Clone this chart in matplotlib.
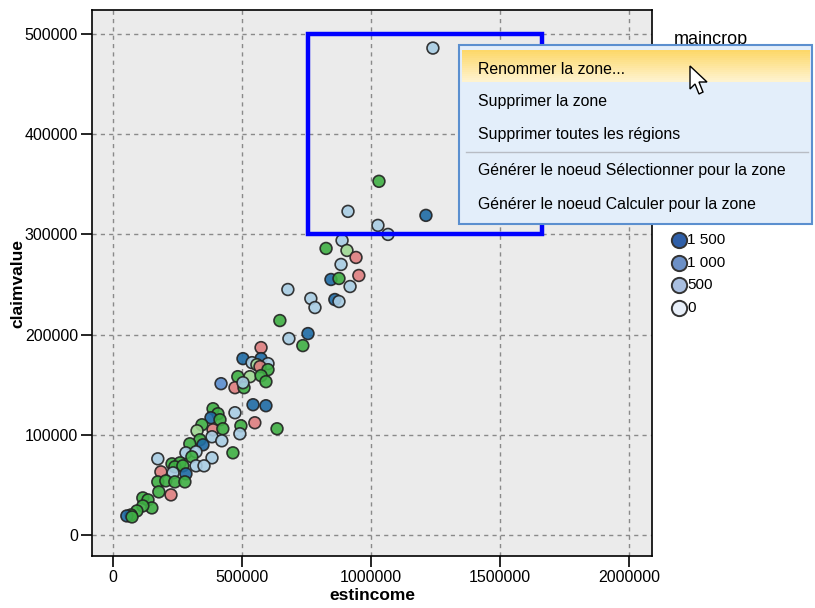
import matplotlib
matplotlib.use('Agg')
import matplotlib.pyplot as plt
from matplotlib.patches import Rectangle, Polygon
from matplotlib.lines import Line2D
import matplotlib.colors as mcolors

plt.rcParams['font.family'] = ['Liberation Sans', 'DejaVu Sans']

# estincome / claimvalue, with the crop colour group
estincome = [1240000, 1031000, 911000, 1027000, 1066000, 1213000, 888000, 826000, 907000, 942000,
             884000, 953000, 845000, 876000, 919000, 678000, 767000, 783000, 860000, 876000,
             647000, 756000, 682000, 736000, 574000, 574000, 504000, 539000, 558000, 601000,
             570000, 601000, 484000, 531000, 574000, 593000, 419000, 473000, 508000, 504000,
             543000, 593000, 388000, 407000, 380000, 415000, 473000, 550000, 496000, 636000,
             345000, 326000, 388000, 426000, 492000, 384000, 422000, 337000, 298000, 349000,
             283000, 322000, 306000, 384000, 465000, 174000, 229000, 260000, 240000, 271000,
             322000, 353000, 186000, 233000, 283000, 174000, 205000, 240000, 279000, 178000,
             225000, 116000, 136000, 151000, 116000, 93000, 70000, 54000, 74000]
claimvalue = [486000, 353000, 323000, 309000, 300000, 319000, 294000, 286000, 284000, 277000,
              270000, 259000, 255000, 256000, 248000, 245000, 236000, 227000, 235000, 233000,
              214000, 201000, 196000, 189000, 187000, 176000, 176000, 172000, 170000, 171000,
              168000, 165000, 158000, 158000, 159000, 153000, 151000, 147000, 147000, 152000,
              130000, 129000, 126000, 121000, 117000, 115000, 122000, 112000, 109000, 106000,
              110000, 104000, 105000, 106000, 101000, 98000, 94000, 95000, 91000, 90000,
              82000, 83000, 78000, 77000, 82000, 76000, 71000, 72000, 68000, 69000,
              69000, 69000, 63000, 62000, 61000, 53000, 54000, 53000, 53000, 43000,
              40000, 37000, 35000, 27000, 29000, 24000, 20000, 19000, 18000]
crop_group = ['LB', 'G', 'LB', 'LB', 'LB', 'DB', 'LB', 'G', 'LG', 'P',
              'LB', 'P', 'DB', 'G', 'LB', 'LB', 'LB', 'LB', 'DB', 'LB',
              'G', 'DB', 'LB', 'G', 'P', 'DB', 'DB', 'LB', 'LG', 'LB',
              'P', 'G', 'G', 'LG', 'G', 'G', 'MB', 'P', 'G', 'LB',
              'DB', 'DB', 'G', 'G', 'DB', 'G', 'LB', 'P', 'G', 'G',
              'G', 'LG', 'P', 'G', 'LB', 'LB', 'LB', 'G', 'G', 'DB',
              'LB', 'LB', 'G', 'LB', 'G', 'LB', 'G', 'G', 'G', 'G',
              'LB', 'LB', 'P', 'LB', 'DB', 'G', 'G', 'G', 'G', 'G',
              'P', 'G', 'G', 'G', 'G', 'G', 'G', 'DB', 'G']
group_colors = {'LB': '#a9cde4', 'DB': '#1f6ca6', 'MB': '#5b8ed0', 'G': '#3fb044',
                'LG': '#9fd792', 'P': '#de7f80'}

# zone drawn on the plot (estincome range, claimvalue range)
zone_x = [755000, 1663000]
zone_y = [300000, 500000]

size_labels = ['1 500', '1 000', '500', '0']
size_colors = ['#2f5fa8', '#6c90c6', '#a9bfe0', '#e8eff9']

menu_items = ['Renommer la zone...', 'Supprimer la zone', 'Supprimer toutes les régions',
              'Générer le noeud Sélectionner pour la zone', 'Générer le noeud Calculer pour la zone']

W, H = 815, 608
fig = plt.figure(figsize=(W / 100, H / 100), dpi=100)
fig.patch.set_facecolor('white')


def px(x, y):
    return (x / W, 1 - y / H)


ax = fig.add_axes([92 / W, 1 - 556 / H, 560 / W, 546 / H])
ax.set_facecolor('#ebebeb')
ax.set_xlim(-81000, 2089000)
ax.set_ylim(-21000, 524000)
ax.set_xticks([0, 500000, 1000000, 1500000, 2000000])
ax.set_yticks([0, 100000, 200000, 300000, 400000, 500000])
ax.set_xticklabels(['0', '500000', '1000000', '1500000', '2000000'])
ax.set_yticklabels(['0', '100000', '200000', '300000', '400000', '500000'])
ax.tick_params(axis='both', length=8, width=1.2, color='black', labelsize=11.5, pad=2)
ax.grid(True, color='#8a8a8a', linestyle=(0, (3, 3)), linewidth=1)
ax.set_axisbelow(True)
for s in ax.spines.values():
    s.set_linewidth(1.2)
ax.set_xlabel('estincome', fontweight='bold', fontsize=12.5, labelpad=2)
ax.set_ylabel('claimvalue', fontweight='bold', fontsize=12.5, va='center')
ax.yaxis.set_label_coords((18 - 92) / 560, 0.5)

cols = [group_colors[g] for g in crop_group]
ax.scatter(estincome, claimvalue, s=72, c=cols, edgecolors='#222222', linewidths=1.2,
           alpha=0.9, zorder=3)

ax.add_patch(Rectangle((zone_x[0], zone_y[0]), zone_x[1] - zone_x[0], zone_y[1] - zone_y[0],
                       fill=False, edgecolor='#0000ff', linewidth=3.2, zorder=4))

# legend area
fig.text(*px(674, 40), 'maincrop', fontsize=13, va='center', ha='left')
for i, (lab, c) in enumerate(zip(size_labels, size_colors)):
    y = 240 + i * 22.7
    fig.add_artist(Line2D([679 / W], [1 - y / H], marker='o', markersize=11,
                          markerfacecolor=c, markeredgecolor='#333333', markeredgewidth=1.4,
                          transform=fig.transFigure))
    fig.text(*px(687, y), lab, fontsize=11, va='center', ha='left')

# context menu
x0, y0, x1, y1 = 459, 45, 812, 224
fig.add_artist(Rectangle(px(x0, y1), (x1 - x0) / W, (y1 - y0) / H, transform=fig.transFigure,
                         facecolor='#e3eefa', edgecolor='#5b8fcf', linewidth=1.5, zorder=10))
hl_top = mcolors.to_rgb('#fdd86a')
hl_bot = mcolors.to_rgb('#fef3cf')
n = 16
for k in range(n):
    t = k / (n - 1)
    c = tuple(hl_top[j] * (1 - t) + hl_bot[j] * t for j in range(3))
    ya = 50 + k * 32 / n
    fig.add_artist(Rectangle(px(462, ya + 32 / n), (810 - 462) / W, (32 / n + 0.5) / H,
                             transform=fig.transFigure, facecolor=c, edgecolor='none', zorder=11))
fig.add_artist(Line2D([466 / W, 808 / W], [1 - 152 / H, 1 - 152 / H], color='#b8bcc4',
                      linewidth=1, transform=fig.transFigure, zorder=11))
for lab, y in zip(menu_items, [69, 101, 135, 171, 205]):
    fig.text(*px(478, y), lab, fontsize=11.4, va='center', ha='left', zorder=12)

# mouse pointer
arrow = [(690, 66), (690, 89), (695, 84), (699, 94), (703, 92), (699, 82), (707, 82)]
fig.add_artist(Polygon([px(a, b) for a, b in arrow], closed=True, transform=fig.transFigure,
                       facecolor='white', edgecolor='black', linewidth=1, zorder=13))

fig.savefig('out.png', dpi=100)
